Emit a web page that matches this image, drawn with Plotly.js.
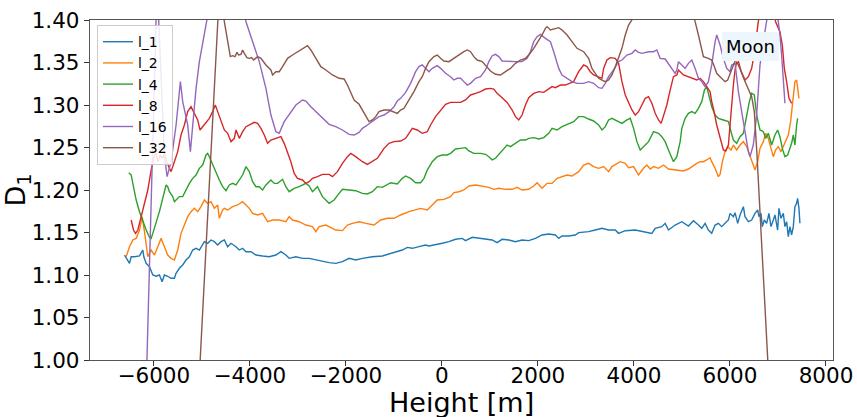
<!DOCTYPE html>
<html>
<head>
<meta charset="utf-8">
<script src="https://cdn.plot.ly/plotly-3.0.1.min.js"></script>
<style>html,body{margin:0;padding:0;background:#fff;}#chart{width:857px;height:417px;}</style>
</head>
<body>
<div id="chart"></div>
<script>
// ---- data (Height [m] vs D_1) ----
const seriesNames = ["l_1", "l_2", "l_4", "l_8", "l_16", "l_32"];
const seriesColors = ["#1f77b4", "#ff7f0e", "#2ca02c", "#d62728", "#9467bd", "#8c564b"];

const h_l1 = [-6611,-6507,-6472,-6403,-6299,-6230,-6209,-6160,-6091,-6022,-5953,-5884,-5829,-5780,-5711,-5642,-5572,-5538,-5468,-5399,-5330,-5260,-5191,-5122,-5052,-4948,-4879,-4809,-4740,-4671,-4601,-4532,-4463,-4393,-4289,-4220,-4151,-4081,-3977,-3873,-3735,-3597,-3458,-3354,-3250,-3181,-3042,-2904,-2765,-2626,-2488,-2349,-2210,-2072,-1933,-1795,-1656,-1448,-1241,-1102,-964,-825,-721,-617,-478,-340,-270,-132,7,146,284,423,492,631,769,908,1047,1150,1254,1393,1532,1670,1809,1948,2086,2225,2364,2433,2502,2641,2779,2849,3056,3195,3334,3472,3611,3680,3819,4027,4165,4373,4442,4581,4650,4719,4858,4997,5135,5239,5343,5412,5482,5551,5620,5690,5759,5828,5898,5967,6002,6071,6106,6161,6210,6279,6313,6383,6452,6521,6577,6604,6646,6674,6715,6764,6812,6854,6903,6937,6993,7020,7062,7111,7145,7180,7215,7249,7284,7319,7353,7388,7409,7437,7457];
const d_l1 = [1.1235,1.1137,1.1215,1.1215,1.1224,1.1294,1.1215,1.1137,1.1098,1.1000,1.0985,1.1000,1.0921,1.1000,1.0985,1.0961,1.0961,1.1020,1.1079,1.1118,1.1176,1.1215,1.1294,1.1314,1.1294,1.1392,1.1373,1.1412,1.1392,1.1353,1.1392,1.1412,1.1333,1.1373,1.1333,1.1294,1.1314,1.1274,1.1274,1.1235,1.1224,1.1215,1.1235,1.1274,1.1235,1.1196,1.1215,1.1196,1.1196,1.1176,1.1157,1.1145,1.1137,1.1157,1.1196,1.1176,1.1196,1.1215,1.1224,1.1247,1.1274,1.1294,1.1325,1.1314,1.1333,1.1353,1.1341,1.1353,1.1373,1.1392,1.1420,1.1431,1.1404,1.1443,1.1431,1.1420,1.1412,1.1380,1.1420,1.1412,1.1392,1.1412,1.1404,1.1431,1.1471,1.1482,1.1471,1.1431,1.1459,1.1459,1.1471,1.1498,1.1510,1.1529,1.1549,1.1529,1.1529,1.1490,1.1521,1.1529,1.1510,1.1490,1.1549,1.1569,1.1608,1.1529,1.1588,1.1627,1.1576,1.1639,1.1588,1.1549,1.1608,1.1529,1.1490,1.1588,1.1608,1.1569,1.1608,1.1647,1.1725,1.1686,1.1733,1.1608,1.1706,1.1804,1.1686,1.1627,1.1647,1.1725,1.1765,1.1686,1.1725,1.1569,1.1647,1.1608,1.1725,1.1569,1.1647,1.1706,1.1529,1.1784,1.1667,1.1725,1.1569,1.1627,1.1451,1.1569,1.1471,1.1569,1.1804,1.1843,1.1902,1.1784,1.1608];

const h_l2 = [-6577,-6507,-6438,-6368,-6299,-6244,-6195,-6160,-6126,-6056,-5987,-5918,-5849,-5780,-5711,-5641,-5572,-5503,-5433,-5364,-5295,-5225,-5156,-5087,-5018,-4948,-4879,-4809,-4740,-4671,-4636,-4567,-4532,-4463,-4359,-4255,-4151,-4081,-4012,-3943,-3839,-3735,-3631,-3527,-3389,-3250,-3181,-3112,-2973,-2834,-2696,-2626,-2557,-2418,-2280,-2210,-2072,-1968,-1864,-1725,-1587,-1414,-1275,-1137,-998,-860,-686,-548,-444,-305,-201,-97,42,180,250,354,457,561,700,839,977,1081,1185,1324,1463,1566,1670,1809,1913,1982,2086,2190,2294,2398,2502,2606,2710,2849,2952,3056,3160,3264,3368,3472,3541,3645,3715,3819,3888,3992,4096,4200,4269,4339,4408,4511,4615,4719,4858,4927,5031,5135,5239,5308,5378,5447,5516,5586,5620,5690,5759,5793,5842,5898,5953,6022,6071,6140,6210,6279,6348,6417,6486,6521,6577,6625,6695,6743,6799,6854,6903,6951,7007,7062,7111,7159,7215,7263,7298,7319,7353,7388,7409,7437];
const d_l2 = [1.1215,1.1333,1.1412,1.1431,1.1529,1.1686,1.1510,1.1333,1.1215,1.1294,1.1235,1.1333,1.1431,1.1333,1.1235,1.1196,1.1176,1.1294,1.1490,1.1588,1.1686,1.1745,1.1784,1.1745,1.1804,1.1882,1.1843,1.1863,1.1784,1.1824,1.1667,1.1765,1.1784,1.1765,1.1804,1.1824,1.1863,1.1824,1.1784,1.1725,1.1706,1.1725,1.1627,1.1647,1.1647,1.1627,1.1686,1.1647,1.1627,1.1588,1.1569,1.1510,1.1569,1.1588,1.1549,1.1529,1.1522,1.1588,1.1608,1.1627,1.1608,1.1588,1.1647,1.1667,1.1667,1.1706,1.1745,1.1765,1.1784,1.1765,1.1824,1.1882,1.1890,1.1922,1.1969,1.1980,1.2000,1.2047,1.2059,1.2047,1.2031,1.2008,1.2020,1.2008,1.2008,1.2031,1.2000,1.2008,1.2047,1.2086,1.2020,1.2078,1.2078,1.2137,1.2157,1.2176,1.2165,1.2216,1.2294,1.2314,1.2275,1.2255,1.2275,1.2216,1.2275,1.2314,1.2333,1.2314,1.2263,1.2275,1.2176,1.2255,1.2294,1.2247,1.2275,1.2255,1.2294,1.2247,1.2235,1.2235,1.2224,1.2247,1.2294,1.2314,1.2333,1.2333,1.2353,1.2380,1.2333,1.2255,1.2157,1.2184,1.2333,1.2451,1.2510,1.2471,1.2529,1.2471,1.2529,1.2569,1.2510,1.2412,1.2294,1.2235,1.2333,1.2490,1.2569,1.2667,1.2608,1.2490,1.2392,1.2471,1.2510,1.2451,1.2510,1.2569,1.2647,1.2804,1.2961,1.3118,1.3275,1.3294,1.3216,1.3078];

const h_l4 = [-6521,-6472,-6438,-6368,-6299,-6230,-6160,-6091,-6056,-6022,-5953,-5884,-5815,-5745,-5711,-5676,-5607,-5572,-5538,-5468,-5399,-5330,-5260,-5191,-5122,-5052,-4983,-4913,-4879,-4844,-4775,-4705,-4636,-4567,-4497,-4428,-4359,-4289,-4220,-4151,-4081,-4012,-3943,-3873,-3804,-3735,-3666,-3562,-3493,-3423,-3319,-3250,-3181,-3077,-2973,-2904,-2834,-2765,-2696,-2592,-2488,-2349,-2245,-2141,-2072,-1933,-1795,-1656,-1552,-1448,-1345,-1241,-1137,-1067,-929,-825,-756,-652,-548,-444,-374,-305,-201,-97,7,111,180,284,388,492,561,665,804,908,977,1047,1116,1185,1254,1358,1428,1532,1636,1740,1809,1913,2017,2121,2225,2294,2398,2502,2606,2745,2849,2952,3056,3160,3264,3334,3403,3472,3541,3645,3750,3854,3923,3992,4062,4131,4200,4304,4408,4511,4581,4650,4719,4789,4823,4893,4962,4997,5066,5135,5205,5274,5343,5412,5468,5516,5565,5620,5690,5759,5863,5967,6022,6071,6140,6210,6279,6348,6403,6452,6507,6556,6625,6695,6743,6799,6868,6937,6993,7041,7090,7145,7201,7249,7284,7319,7353,7388,7409];
const d_l4 = [1.2204,1.2176,1.2078,1.1882,1.1745,1.1627,1.1529,1.1443,1.1431,1.1490,1.1608,1.1745,1.1902,1.2059,1.2039,1.1980,1.1922,1.1863,1.1882,1.1922,1.1922,1.2000,1.2078,1.2137,1.2176,1.2255,1.2294,1.2412,1.2431,1.2392,1.2294,1.2196,1.2118,1.2039,1.1992,1.2059,1.2078,1.2059,1.2118,1.2176,1.2275,1.2216,1.2098,1.2039,1.2039,1.2000,1.2059,1.2118,1.2078,1.2078,1.2126,1.2039,1.1980,1.2020,1.2039,1.2059,1.2078,1.2047,1.1980,1.2039,1.1922,1.1843,1.1882,1.1961,1.2008,1.2000,1.1992,1.1961,1.1953,1.1980,1.2039,1.2031,1.2059,1.2086,1.2071,1.2137,1.2165,1.2137,1.2086,1.2086,1.2137,1.2235,1.2333,1.2392,1.2412,1.2412,1.2431,1.2482,1.2490,1.2498,1.2459,1.2431,1.2431,1.2420,1.2392,1.2353,1.2373,1.2420,1.2471,1.2529,1.2510,1.2549,1.2588,1.2588,1.2608,1.2616,1.2600,1.2616,1.2667,1.2725,1.2706,1.2745,1.2773,1.2804,1.2863,1.2863,1.2835,1.2812,1.2765,1.2706,1.2745,1.2824,1.2843,1.2812,1.2784,1.2824,1.2843,1.2725,1.2569,1.2471,1.2510,1.2569,1.2686,1.2667,1.2627,1.2569,1.2471,1.2373,1.2333,1.2392,1.2569,1.2725,1.2843,1.2902,1.2922,1.2902,1.2961,1.3039,1.3176,1.3216,1.3118,1.2980,1.2882,1.2843,1.2824,1.2804,1.2686,1.2588,1.2549,1.2627,1.2667,1.2882,1.3039,1.3137,1.3118,1.2882,1.2706,1.2686,1.2608,1.2667,1.2529,1.2647,1.2706,1.2627,1.2490,1.2392,1.2412,1.2490,1.2549,1.2647,1.2529,1.2765,1.2843];

const h_l8 = [-6472,-6424,-6382,-6334,-6264,-6195,-6126,-6056,-5987,-5953,-5918,-5870,-5815,-5780,-5732,-5676,-5642,-5572,-5503,-5434,-5364,-5295,-5226,-5156,-5087,-5038,-4948,-4844,-4775,-4720,-4671,-4601,-4532,-4463,-4393,-4324,-4289,-4220,-4151,-4081,-4012,-3908,-3839,-3769,-3700,-3631,-3562,-3458,-3354,-3285,-3215,-3146,-3077,-3008,-2904,-2834,-2765,-2696,-2592,-2488,-2349,-2280,-2176,-2072,-1968,-1898,-1795,-1656,-1552,-1448,-1345,-1275,-1206,-1102,-998,-860,-756,-686,-617,-513,-409,-305,-236,-132,-28,76,180,284,388,492,596,700,804,908,1012,1081,1150,1254,1358,1463,1532,1601,1670,1740,1809,1913,2017,2121,2190,2294,2364,2468,2572,2676,2744,2848,2952,3021,3091,3160,3264,3334,3368,3437,3507,3611,3680,3750,3819,3888,3958,4027,4096,4165,4235,4304,4373,4442,4511,4567,4615,4685,4754,4823,4893,4927,5031,5135,5239,5308,5378,5447,5516,5586,5620,5655,5724,5793,5863,5911,5967,6002,6036,6071,6106,6140,6175,6244,6313,6383,6452,6507,6556,6590,6770,6951,7007,7041,7090,7132,7180,7229,7284];
const d_l8 = [1.1647,1.1529,1.1490,1.1529,1.1686,1.1843,1.2000,1.2235,1.2412,1.2431,1.2333,1.2412,1.2373,1.2431,1.2333,1.2255,1.2216,1.2333,1.2451,1.2647,1.2765,1.2922,1.2980,1.2902,1.2824,1.2706,1.2765,1.2843,1.2922,1.3000,1.2922,1.2804,1.2706,1.2667,1.2569,1.2608,1.2706,1.2608,1.2686,1.2745,1.2765,1.2796,1.2784,1.2725,1.2647,1.2549,1.2588,1.2608,1.2627,1.2549,1.2451,1.2333,1.2196,1.2137,1.2118,1.2078,1.2098,1.2137,1.2157,1.2184,1.2184,1.2157,1.2216,1.2314,1.2392,1.2431,1.2392,1.2333,1.2302,1.2333,1.2373,1.2431,1.2490,1.2549,1.2569,1.2576,1.2608,1.2667,1.2725,1.2706,1.2667,1.2686,1.2765,1.2863,1.2941,1.3008,1.3031,1.3031,1.3031,1.3059,1.3118,1.3137,1.3157,1.3188,1.3196,1.3188,1.3137,1.3086,1.3031,1.2941,1.2863,1.2824,1.2882,1.3000,1.3086,1.3137,1.3157,1.3149,1.3176,1.3216,1.3204,1.3235,1.3235,1.3255,1.3275,1.3392,1.3471,1.3451,1.3392,1.3353,1.3333,1.3314,1.3431,1.3529,1.3557,1.3549,1.3490,1.3275,1.3118,1.3020,1.2941,1.2882,1.2922,1.3000,1.3078,1.3098,1.3020,1.2902,1.2824,1.2784,1.2863,1.3000,1.3176,1.3333,1.3353,1.3412,1.3353,1.3333,1.3314,1.3294,1.3314,1.3275,1.3216,1.3157,1.3039,1.2961,1.2765,1.2608,1.2471,1.2459,1.2529,1.2765,1.3039,1.3235,1.3412,1.3510,1.3471,1.3392,1.3294,1.3333,1.3431,1.3608,1.3824,1.3980,1.4600,1.3980,1.3902,1.3863,1.3706,1.3431,1.3275,1.3078,1.3020];

const h_l16 = [-6200,-5930,-5898,-5849,-5780,-5724,-5641,-5537,-5447,-5399,-5350,-5295,-5239,-5191,-5121,-5052,-4983,-4913,-4800,-4500,-4200,-4081,-3943,-3804,-3666,-3562,-3458,-3389,-3285,-3181,-3042,-2904,-2834,-2730,-2557,-2418,-2349,-2210,-2072,-1933,-1829,-1725,-1656,-1552,-1448,-1310,-1206,-1102,-998,-929,-860,-756,-652,-548,-478,-409,-340,-270,-201,-97,-28,76,180,250,319,388,457,527,596,700,804,908,977,1047,1116,1185,1254,1393,1532,1670,1774,1844,1913,1982,2052,2156,2260,2329,2433,2502,2606,2710,2814,2952,3056,3160,3264,3334,3403,3472,3576,3680,3750,3854,3958,4027,4096,4165,4304,4408,4477,4546,4650,4719,4789,4858,4893,4927,4997,5066,5135,5205,5274,5343,5412,5482,5551,5620,5690,5725,5794,5863,5932,6002,6036,6106,6175,6244,6313,6383,6417,6486,6556,6625,6695,6764,6880,7007,7041,7076,7111,7145];
const d_l16 = [0.882,1.450,1.398,1.3275,1.2412,1.2157,1.2333,1.2765,1.3275,1.3039,1.2922,1.2765,1.2451,1.2765,1.3196,1.3510,1.3706,1.3902,1.4300,1.4700,1.4300,1.3980,1.3745,1.3510,1.3196,1.2882,1.2686,1.2667,1.2804,1.2882,1.3000,1.3059,1.3047,1.2980,1.2882,1.2804,1.2773,1.2745,1.2706,1.2655,1.2647,1.2678,1.2725,1.2765,1.2804,1.2863,1.2882,1.2922,1.2980,1.3047,1.3078,1.3149,1.3255,1.3392,1.3451,1.3471,1.3431,1.3392,1.3431,1.3463,1.3431,1.3373,1.3333,1.3294,1.3314,1.3314,1.3275,1.3235,1.3255,1.3314,1.3333,1.3412,1.3510,1.3580,1.3596,1.3569,1.3518,1.3510,1.3510,1.3510,1.3549,1.3627,1.3745,1.3804,1.3831,1.3784,1.3745,1.3627,1.3431,1.3353,1.3314,1.3275,1.3255,1.3255,1.3275,1.3255,1.3204,1.3196,1.3255,1.3333,1.3412,1.3510,1.3529,1.3588,1.3608,1.3647,1.3620,1.3608,1.3627,1.3627,1.3647,1.3549,1.3541,1.3490,1.3431,1.3373,1.3412,1.3510,1.3471,1.3431,1.3490,1.3529,1.3431,1.3314,1.3275,1.3216,1.3275,1.3471,1.3745,1.3824,1.3706,1.3549,1.3431,1.3392,1.3471,1.3490,1.3157,1.2922,1.2686,1.2451,1.2392,1.2529,1.2882,1.3471,1.3745,1.3980,1.4400,1.3980,1.3824,1.3588,1.3275,1.3020];

const h_l32 = [-5100,-4620,-4532,-4407,-4359,-4310,-4268,-4234,-4185,-4151,-4116,-4061,-4012,-3964,-3922,-3839,-3769,-3666,-3562,-3527,-3458,-3389,-3319,-3215,-3112,-3008,-2904,-2800,-2730,-2626,-2522,-2418,-2280,-2141,-2037,-1968,-1898,-1829,-1725,-1656,-1587,-1518,-1448,-1379,-1310,-1206,-1102,-998,-929,-860,-790,-686,-582,-478,-409,-340,-270,-166,-97,-28,42,146,250,354,457,527,596,665,735,839,908,1012,1116,1220,1324,1428,1532,1636,1740,1809,1913,1982,2086,2156,2190,2260,2364,2433,2502,2606,2710,2814,2952,3056,3125,3195,3264,3334,3403,3472,3541,3611,3680,3750,3819,3888,4300,4800,5150,5274,5343,5412,5447,5551,5620,5676,5724,5793,5898,5953,6002,6071,6119,6161,6196,6244,6300,6348,6398,6452,6507,6535,6563,6880];
const d_l32 = [0.930,1.450,1.398,1.3569,1.3580,1.3569,1.3620,1.3588,1.3596,1.3647,1.3608,1.3557,1.3549,1.3557,1.3529,1.3569,1.3549,1.3471,1.3412,1.3353,1.3392,1.3392,1.3451,1.3549,1.3588,1.3627,1.3667,1.3698,1.3647,1.3549,1.3451,1.3412,1.3353,1.3314,1.3306,1.3235,1.3137,1.3059,1.3008,1.2941,1.2863,1.2804,1.2824,1.2863,1.2922,1.2941,1.2941,1.2914,1.2902,1.2941,1.2961,1.3059,1.3157,1.3275,1.3333,1.3431,1.3510,1.3569,1.3588,1.3549,1.3518,1.3510,1.3549,1.3596,1.3627,1.3647,1.3627,1.3569,1.3529,1.3510,1.3471,1.3400,1.3361,1.3353,1.3392,1.3431,1.3490,1.3529,1.3549,1.3588,1.3667,1.3726,1.3824,1.3902,1.3922,1.3882,1.3894,1.3910,1.3882,1.3824,1.3745,1.3667,1.3627,1.3549,1.3431,1.3373,1.3314,1.3294,1.3275,1.3294,1.3353,1.3451,1.3549,1.3667,1.3824,1.3941,1.4300,1.4600,1.4400,1.3980,1.3824,1.3627,1.3569,1.3549,1.3529,1.3451,1.3373,1.3333,1.3275,1.3294,1.3373,1.3471,1.3529,1.3549,1.3471,1.3373,1.3294,1.3235,1.3176,1.3098,1.2922,1.2686,1.2412,0.900];

const heightTicks = [-6000, -4000, -2000, 0, 2000, 4000, 6000, 8000];
const dTicks = [1.00, 1.05, 1.10, 1.15, 1.20, 1.25, 1.30, 1.35, 1.40];
const annotationText = "Moon";
const xTitleText = "Height [m]";

const xs = [h_l1, h_l2, h_l4, h_l8, h_l16, h_l32];
const ys = [d_l1, d_l2, d_l4, d_l8, d_l16, d_l32];

const traces = seriesNames.map((name, i) => ({
  type: 'scatter', mode: 'lines', name: name,
  x: xs[i], y: ys[i],
  line: {color: seriesColors[i], width: 1.4},
  cliponaxis: true
}));

const FONT = 'DejaVu Sans, Liberation Sans, sans-serif';
const layout = {
  width: 857, height: 417,
  margin: {l: 90, r: 24, t: 20, b: 57},
  paper_bgcolor: '#ffffff', plot_bgcolor: '#ffffff',
  font: {family: FONT, color: '#000'},
  showlegend: true,
  legend: {
    x: 0.0094, y: 0.985, xanchor: 'left', yanchor: 'top',
    bgcolor: 'rgba(255,255,255,0.85)', bordercolor: '#cccccc', borderwidth: 1,
    font: {family: FONT, size: 14, color: '#000'},
    tracegroupgap: 0
  },
  xaxis: {
    range: [-7330, 8146], tickvals: heightTicks,
    ticktext: heightTicks.map(v => v < 0 ? '\u2212' + Math.abs(v) : String(v)),
    ticks: 'outside', ticklen: 5, tickwidth: 1, tickcolor: '#333',
    ticklabelstandoff: -9,
    showline: true, linecolor: '#555', linewidth: 1.2, mirror: true,
    showgrid: false, zeroline: false,
    tickfont: {family: FONT, size: 21.5, color: '#000'}
  },
  yaxis: {
    range: [1.0, 1.4], tickvals: dTicks, ticktext: dTicks.map(v => v.toFixed(2)),
    ticks: 'outside', ticklen: 5, tickwidth: 1, tickcolor: '#333',
    showline: true, linecolor: '#555', linewidth: 1.2, mirror: true,
    showgrid: false, zeroline: false,
    tickfont: {family: FONT, size: 21.5, color: '#000'},
    title: {text: 'D<sub>1</sub>', font: {family: FONT, size: 27, color: '#000'}, standoff: 6}
  },
  annotations: [{
    text: annotationText, xref: 'x', yref: 'paper', x: 6435, y: 0.9235,
    xanchor: 'center', yanchor: 'middle', showarrow: false,
    font: {family: FONT, size: 18, color: '#000'},
    bgcolor: '#edf5fd', borderpad: 4, bordercolor: 'rgba(0,0,0,0)', borderwidth: 0
  }, {
    text: xTitleText, xref: 'paper', yref: 'paper', x: 0.5, y: -0.125,
    xanchor: 'center', yanchor: 'middle', showarrow: false,
    font: {family: FONT, size: 27, color: '#000'}
  }]
};

Plotly.newPlot('chart', traces, layout, {staticPlot: true, displayModeBar: false});
</script>
</body>
</html>
